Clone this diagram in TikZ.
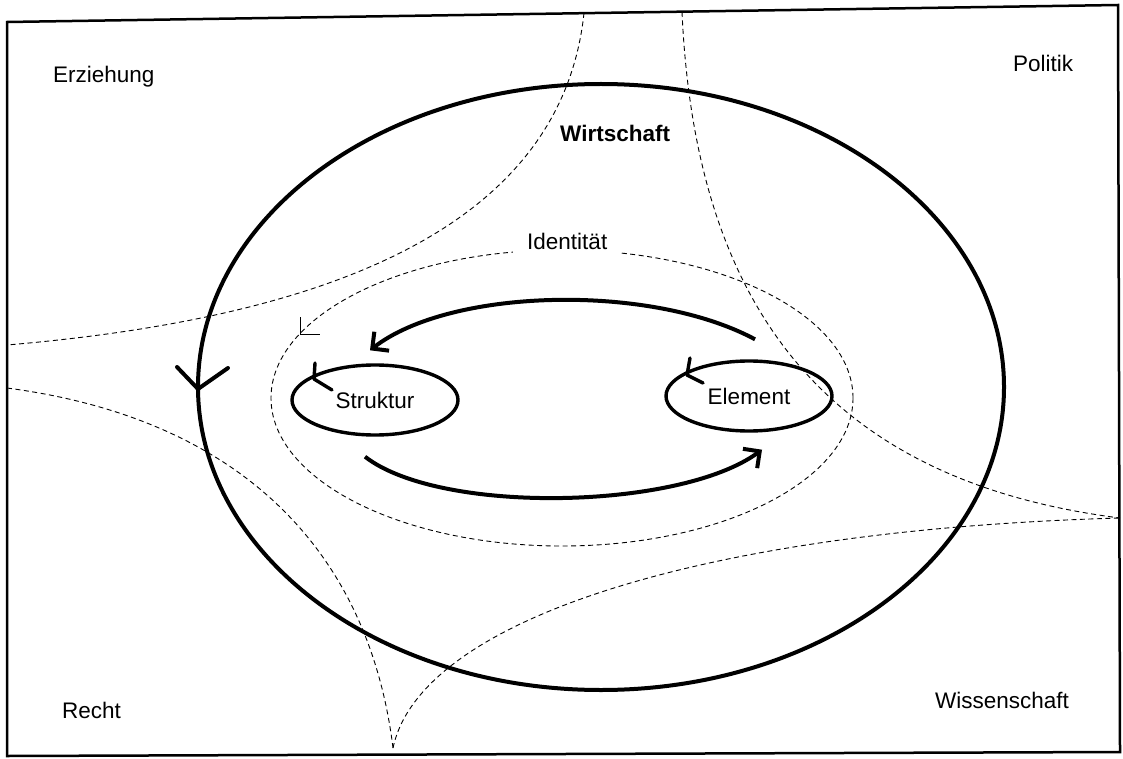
\documentclass[tikz,border=0pt]{standalone}
\usepackage{fontspec}
\setmainfont{Liberation Sans}
\usetikzlibrary{arrows.meta,shapes.geometric}

\begin{document}
\begin{tikzpicture}[x=1pt,y=-1pt,font=\fontsize{22.5}{26}\selectfont,
 sysline/.style={line width=.9pt,dash pattern=on 5pt off 3.5pt},
 oval/.style={draw,ellipse,line width=3.4pt,minimum width=166pt,minimum height=70pt,inner sep=0pt},
 flow/.style={line width=4pt,-{Straight Barb[length=12pt,width=24pt]}},
 barb/.style={line width=3.4pt,line cap=round,line join=round},
 sysname/.style={anchor=base west,inner sep=0pt}]
 \useasboundingbox (0,0) rectangle (1123,759);
 % frame
 \draw[line width=2.5pt] (7,22) -- (1118,5) -- (1120,752) -- (7,756) -- cycle;
 % system boundaries
 \draw[sysline] (584,13) .. controls (560,240) and (300,320) .. (7,345);
 \draw[sysline] (682,12) .. controls (695,300) and (820,480) .. (1120,518);
 \draw[sysline] (7,388) .. controls (250,420) and (370,560) .. (393,748);
 \draw[sysline] (393,748) .. controls (420,620) and (700,530) .. (1120,518);
 % Wirtschaft
 \draw[line width=4pt] (601,387) ellipse [x radius=403, y radius=303];
 \draw[barb,line width=4pt] (177,367) -- (198,389) -- (228,368);
 % Identitaet
 \draw[sysline] (562,398) ellipse [x radius=291, y radius=148];
 \draw[line width=.9pt] (300,317) -- (300,334) -- (320,334);
 % Struktur / Element
 \node[oval] (struk) at (375,400) {Struktur};
 \node[oval] (elem) at (749,396) {Element};
 \draw[barb] (315,363) -- (314,379) -- (332,390);
 \draw[barb] (690,358) -- (687,375) -- (703,383);
 \draw[flow] ([xshift=6pt,yshift=20pt]elem.north) .. controls (650,283) and (450,288) .. ([xshift=-5pt,yshift=13pt]struk.north);
 \draw[flow] ([xshift=-10pt,yshift=-20pt]struk.south) .. controls (440,515) and (680,510) .. ([xshift=13pt,yshift=-17pt]elem.south);
 % system names
 \node[sysname] (erz) at (53,83) {Erziehung};
 \node[sysname] (pol) at (1013,72) {Politik};
 \node[sysname] (recht) at (62,718) {Recht};
 \node[sysname] (wiss) at (935,708) {Wissenschaft};
 \node[sysname,font=\fontsize{22.5}{26}\selectfont\bfseries] (wirt) at (560,142) {Wirtschaft};
 \node[sysname,fill=white,inner xsep=14pt,inner ysep=5pt] (ident) at (513,250) {Identität};
\end{tikzpicture}
\end{document}
